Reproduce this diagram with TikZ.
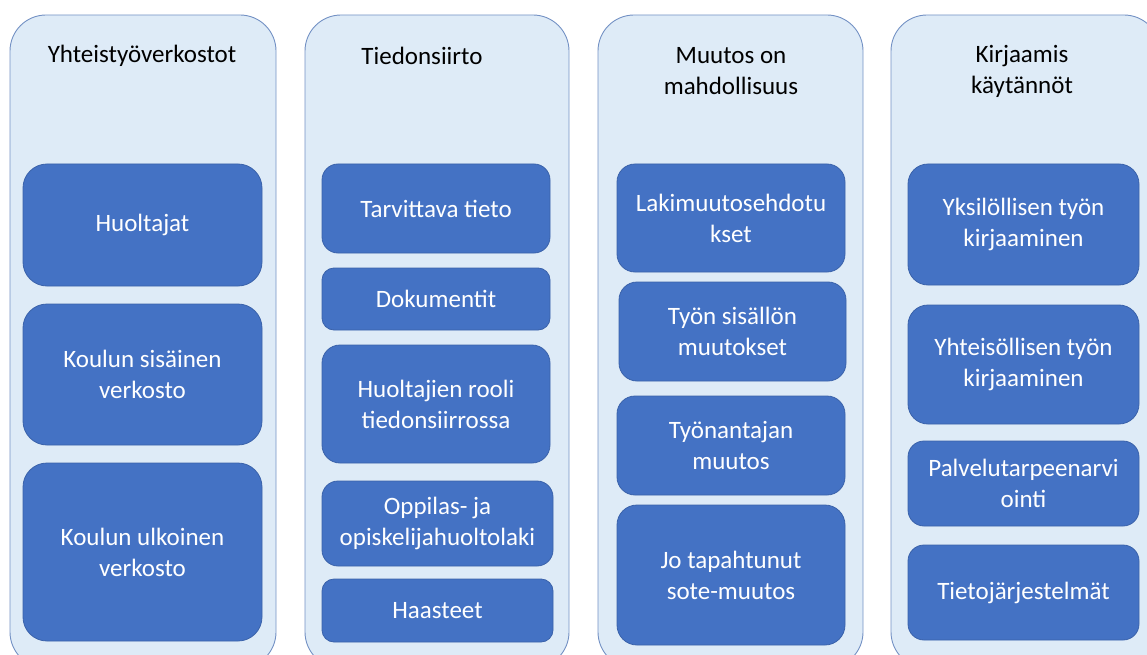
\documentclass[tikz,border=0pt]{standalone}
\usepackage{fontspec}
\setmainfont{Carlito}
\definecolor{outerfill}{HTML}{DEEBF7}
\definecolor{outerdraw}{HTML}{7391C4}
\definecolor{innerfill}{HTML}{4472C4}
\definecolor{innerdraw}{HTML}{3A62AA}
\begin{document}
\begin{tikzpicture}[x=1pt,y=-1pt,
  colbox/.style={fill=outerfill,draw=outerdraw,line width=0.9pt,rounded corners=36pt},
  itembox/.style={fill=innerfill,draw=innerdraw,line width=0.8pt,rounded corners=24pt},
  itemtext/.style={text=white,font=\fontsize{25}{31}\selectfont,align=center},
  titletext/.style={text=black,font=\fontsize{25}{31}\selectfont,align=center}]
\useasboundingbox (0,0) rectangle (1147,655);
% columns
\draw[colbox] (10,15) rectangle (276,668);
\draw[colbox] (305,15) rectangle (569,668);
\draw[colbox] (598,15) rectangle (863,668);
\draw[colbox] (891,15) rectangle (1160,668);
% titles
\node[titletext] (t1) at (142,56) {Yhteistyöverkostot};
\node[titletext] (t2) at (422,56) {Tiedonsiirto};
\node[titletext] (t3) at (731,71) {Muutos on\\mahdollisuus};
\node[titletext] (t4) at (1022,71) {Kirjaamis\\käytännöt};
% column 1
\draw[itembox] (23,164) rectangle (262,286);
\node[itemtext] (a1) at (142.5,225) {Huoltajat};
\draw[itembox] (23,304) rectangle (262,445);
\node[itemtext] (a2) at (142.5,374.5) {Koulun sisäinen\\verkosto};
\draw[itembox] (23,463) rectangle (262,641);
\node[itemtext] (a3) at (142.5,552) {Koulun ulkoinen\\verkosto};
% column 2
\draw[itembox,rounded corners=16pt] (322,164) rectangle (550,253);
\node[itemtext] (b1) at (436,208.5) {Tarvittava tieto};
\draw[itembox,rounded corners=12pt] (322,268) rectangle (550,330);
\node[itemtext] (b2) at (436,299) {Dokumentit};
\draw[itembox,rounded corners=18pt] (322,345) rectangle (550,463);
\node[itemtext] (b3) at (436,404) {Huoltajien rooli\\tiedonsiirrossa};
\draw[itembox,rounded corners=16pt] (322,481) rectangle (553,566);
\node[itemtext] (b4) at (437.5,523.5) {Oppilas- ja\\opiskelijahuoltolaki};
\draw[itembox,rounded corners=12pt] (322,579) rectangle (553,642);
\node[itemtext] (b5) at (437.5,610.5) {Haasteet};
% column 3
\draw[itembox,rounded corners=18pt] (617,164) rectangle (845,272);
\node[itemtext] (c1) at (731,218) {Lakimuutosehdotu\\kset};
\draw[itembox,rounded corners=18pt] (619,282) rectangle (846,381);
\node[itemtext] (c2) at (732.5,331.5) {Työn sisällön\\muutokset};
\draw[itembox,rounded corners=18pt] (617,396) rectangle (845,495);
\node[itemtext] (c3) at (731,445.5) {Työnantajan\\muutos};
\draw[itembox,rounded corners=20pt] (617,505) rectangle (845,645);
\node[itemtext] (c4) at (731,575) {Jo tapahtunut\\sote-muutos};
% column 4
\draw[itembox,rounded corners=20pt] (908,164) rectangle (1139,285);
\node[itemtext] (d1) at (1023.5,224.5) {Yksilöllisen työn\\kirjaaminen};
\draw[itembox,rounded corners=20pt] (908,305) rectangle (1139,424);
\node[itemtext] (d2) at (1023.5,364.5) {Yhteisöllisen työn\\kirjaaminen};
\draw[itembox,rounded corners=16pt] (908,441) rectangle (1139,526);
\node[itemtext] (d3) at (1023.5,483.5) {Palvelutarpeenarvi\\ointi};
\draw[itembox,rounded corners=16pt] (908,545) rectangle (1139,640);
\node[itemtext] (d4) at (1023.5,592.5) {Tietojärjestelmät};
\end{tikzpicture}
\end{document}
